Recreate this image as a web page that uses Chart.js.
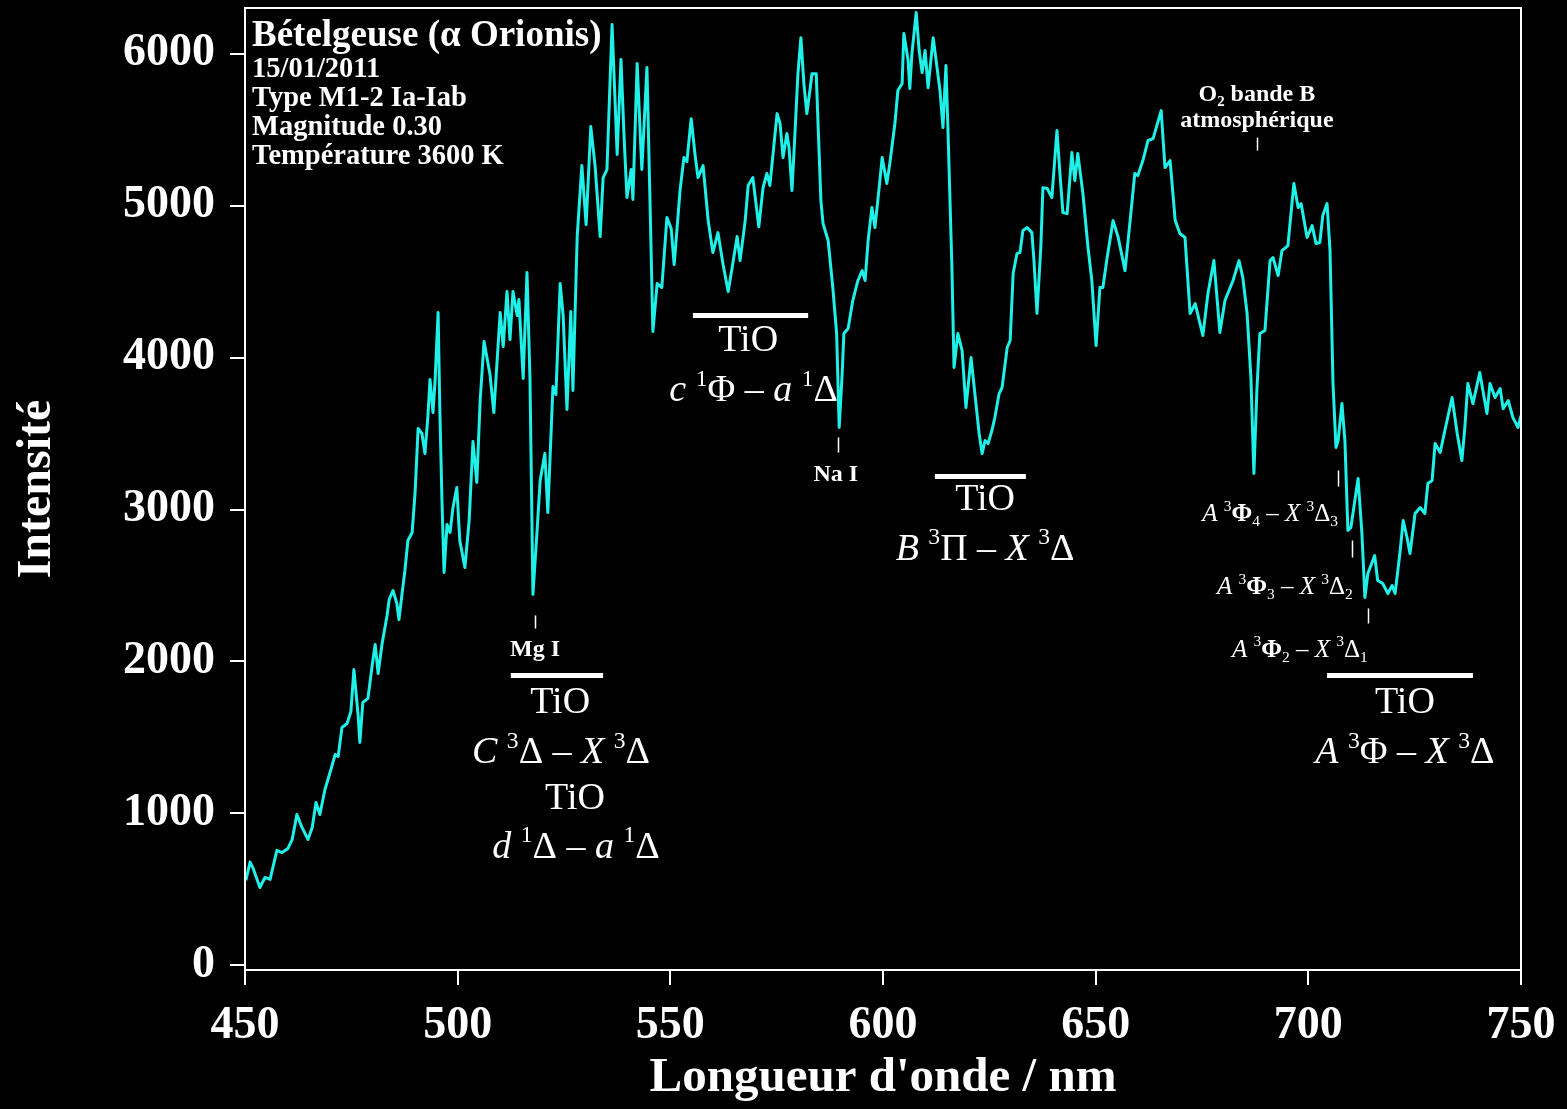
<!DOCTYPE html>
<html lang="fr">
<head>
<meta charset="utf-8">
<title>Bételgeuse (α Orionis) – spectre</title>
<script src="https://cdn.jsdelivr.net/npm/chart.js@4/dist/chart.umd.min.js"></script>
<style>
  html, body { margin: 0; padding: 0; background: #000; }
  canvas { display: block; }
</style>
</head>
<body>
<canvas id="spectre" width="1567" height="1109"></canvas>
<script>
// Spectre de Bételgeuse : longueur d'onde (nm) et intensité relevée
const wavelengths = [
  450.2, 451.2, 451.9, 453.5, 454.7, 455.9, 457.5, 458.7, 460.1, 461.1,
  462.2, 463.4, 464.8, 465.8, 466.7, 467.6, 468.8, 470.2, 471.2, 471.9,
  472.8, 474.0, 474.9, 475.6, 476.6, 477.0, 477.7, 478.9, 479.9, 480.6,
  481.3, 482.2, 483.4, 483.9, 484.8, 485.7, 486.2, 486.9, 487.6, 488.3,
  489.3, 490.0, 490.7, 491.6, 492.3, 493.0, 493.5, 494.2, 494.7, 495.4,
  495.8, 496.3, 496.8, 497.5, 498.2, 498.9, 499.8, 500.5, 501.7, 502.7,
  503.6, 504.5, 505.3, 506.2, 507.6, 508.5, 510.0, 510.7, 511.6, 512.3,
  513.0, 514.0, 514.4, 515.4, 516.3, 517.0, 517.7, 518.7, 519.4, 520.5,
  521.2, 522.4, 523.1, 524.1, 524.8, 525.7, 526.6, 527.1, 528.1, 529.2,
  530.2, 531.3, 532.3, 533.5, 534.2, 535.1, 536.3, 537.5, 538.4, 539.1,
  539.8, 540.8, 541.2, 542.2, 543.3, 544.5, 545.2, 545.9, 546.9, 548.0,
  549.2, 550.2, 550.9, 552.3, 553.2, 553.9, 554.9, 555.8, 556.5, 557.7,
  558.9, 560.0, 561.2, 562.4, 563.6, 564.5, 565.7, 566.4, 567.6, 568.3,
  569.4, 570.8, 571.8, 572.7, 573.4, 575.1, 575.8, 576.5, 577.4, 577.9,
  578.6, 579.3, 580.0, 580.7, 581.4, 582.1, 582.9, 583.3, 584.3, 584.7,
  585.4, 585.9, 587.1, 588.2, 589.1, 589.7, 590.4, 590.8, 591.8, 592.9,
  594.1, 595.1, 595.8, 596.5, 597.4, 598.1, 599.1, 599.8, 600.9, 601.6,
  602.8, 603.5, 604.5, 604.9, 605.9, 606.3, 606.8, 607.8, 608.5, 609.2,
  609.9, 610.6, 611.8, 612.7, 613.4, 614.1, 614.8, 615.3, 616.2, 616.7,
  617.6, 618.6, 619.5, 620.7, 621.6, 622.6, 623.3, 624.0, 624.7, 625.6,
  626.3, 627.3, 628.0, 629.2, 629.9, 630.6, 631.5, 632.2, 632.9, 633.9,
  635.0, 635.5, 636.2, 637.1, 637.6, 638.6, 639.7, 640.9, 641.6, 642.3,
  643.3, 644.4, 645.1, 645.8, 647.0, 648.2, 649.1, 650.1, 651.0, 651.7,
  652.7, 654.1, 655.3, 656.9, 658.1, 659.2, 659.9, 661.1, 662.3, 663.5,
  665.4, 666.3, 667.5, 668.7, 669.8, 671.0, 672.2, 673.4, 675.2, 676.4,
  677.8, 679.2, 680.4, 682.3, 683.7, 684.6, 685.6, 686.5, 687.2, 687.9,
  688.6, 689.8, 691.0, 691.7, 692.9, 693.8, 695.2, 696.6, 697.6, 698.3,
  699.7, 700.9, 701.8, 702.7, 703.4, 704.4, 705.1, 705.8, 706.5, 707.0,
  707.9, 708.6, 709.3, 710.0, 711.7, 712.6, 713.3, 714.0, 715.6, 716.3,
  717.5, 718.7, 719.7, 720.4, 721.6, 722.3, 723.2, 723.9, 725.1, 726.3,
  727.4, 728.1, 729.1, 729.8, 731.0, 732.1, 733.8, 735.0, 736.1, 736.8,
  737.5, 738.7, 740.3, 742.0, 742.7, 743.9, 745.1, 745.8, 747.0, 748.1,
  749.3, 750.0
];
const intensities = [
   560,  680,  640,  513,  579,  566,  757,  743,  770,  829,
   993,  908,  829,  908, 1072,  993, 1158, 1289, 1388, 1375,
  1566, 1592, 1671, 1947, 1645, 1467, 1730, 1757, 1974, 2112,
  1921, 2112, 2303, 2408, 2467, 2382, 2276, 2441, 2599, 2796,
  2849, 3118, 3533, 3500, 3368, 3612, 3855, 3638, 3855, 4296,
  3665, 3066, 2586, 2901, 2849, 3013, 3145, 2796, 2618, 2928,
  3447, 3178, 3724, 4105, 3888, 3638, 4296, 4072, 4434, 4118,
  4434, 4276, 4382, 3862, 4559, 3862, 2441, 2875, 3191, 3368,
  2980, 3809, 3757, 4487, 4276, 3658, 4303, 3783, 4796, 5263,
  4875, 5520, 5263, 4796, 5184, 5237, 6191, 5336, 5961, 5467,
  5053, 5237, 5040, 5934, 5237, 5908, 5053, 4171, 4487, 4461,
  4921, 4849, 4612, 5105, 5316, 5290, 5572, 5336, 5184, 5263,
  4901, 4691, 4822, 4612, 4434, 4586, 4796, 4638, 4901, 5132,
  5184, 4860, 5118, 5211, 5132, 5605, 5540, 5316, 5474, 5382,
  5099, 5474, 5868, 6105, 5803, 5605, 5776, 5868, 5868, 5559,
  5033, 4882, 4770, 4461, 4158, 3540, 3895, 4158, 4191, 4375,
  4507, 4572, 4507, 4770, 4987, 4855, 5118, 5316, 5145, 5276,
  5540, 5757, 5803, 6132, 5954, 5770, 6000, 6270, 6020, 5875,
  6020, 5776, 6105, 5908, 5757, 5513, 5921, 5474, 4592, 3934,
  4158, 4046, 3671, 4000, 3763, 3500, 3368, 3454, 3434, 3520,
  3605, 3763, 3803, 4066, 4112, 4553, 4684, 4691, 4836, 4855,
  4822, 4638, 4290, 4724, 5118, 5112, 5053, 5494, 5211, 4954,
  4947, 5349, 5165, 5342, 5079, 4724, 4507, 4079, 4461, 4461,
  4658, 4901, 4790, 4572, 4901, 5211, 5197, 5296, 5428, 5441,
  5625, 5250, 5296, 4901, 4816, 4790, 4290, 4355, 4145, 4421,
  4638, 4165, 4375, 4507, 4638, 4526, 4290, 3868, 3237, 3783,
  4158, 4178, 4638, 4658, 4540, 4704, 4737, 5145, 4987, 5013,
  4790, 4868, 4750, 4757, 4934, 5013, 4704, 3829, 3408, 3454,
  3697, 3454, 2862, 2882, 3204, 2842, 2421, 2579, 2697, 2533,
  2513, 2447, 2500, 2447, 2730, 2928, 2816, 2711, 2974, 3013,
  2974, 3171, 3191, 3434, 3375, 3520, 3737, 3500, 3322, 3540,
  3829, 3697, 3901, 3632, 3829, 3737, 3796, 3664, 3717, 3605,
  3540, 3618
];

// Graduations des axes
const xTickValues = [450, 500, 550, 600, 650, 700, 750];
const yTickValues = [0, 1000, 2000, 3000, 4000, 5000, 6000];

// Fiche de l'étoile (coin supérieur gauche)
const starTitle = 'Bételgeuse (α Orionis)';
const starDetails = ['15/01/2011', 'Type M1-2 Ia-Iab', 'Magnitude 0.30', 'Température 3600 K'];

// Bandes moléculaires : étendue (nm) et niveau du trait
const bandFrom  = [512.5, 555.3, 612.2, 704.4];
const bandTo    = [534.2, 582.4, 633.6, 738.7];
const bandLevel = [1908, 4276, 3217, 1908];

// Raies repérées : position (nm) et extrémités du repère
const markNm   = [518.2, 589.4, 687.9, 707.0, 710.3, 714.0];
const markLow  = [2217, 3375, 5362, 3151, 2684, 2250];
const markHigh = [2303, 3474, 5447, 3257, 2796, 2349];

const FAMILY = '"Liberation Serif", "Times New Roman", serif';
const LINE_COLOR = '#1ff0e8';

// Textes composés : [texte, style] — i = italique, b = gras, sup / sub
const labels = [
  // TiO C3Δ–X3Δ et d1Δ–a1Δ
  { nm: 524.1, v: 1743, size: 38, segs: [['TiO']] },
  { nm: 524.3, v: 1414, size: 38, segs: [['C', 'i'], [' '], ['3', 'sup'], ['Δ'], [' – '], ['X', 'i'], [' '], ['3', 'sup'], ['Δ']] },
  { nm: 527.6, v: 1112, size: 38, segs: [['TiO']] },
  { nm: 527.8, v: 789,  size: 38, segs: [['d', 'i'], [' '], ['1', 'sup'], ['Δ'], [' – '], ['a', 'i'], [' '], ['1', 'sup'], ['Δ']] },
  // TiO c1Φ–a1Δ
  { nm: 568.3, v: 4125, size: 38, segs: [['TiO']] },
  { nm: 569.6, v: 3796, size: 38, segs: [['c', 'i'], [' '], ['1', 'sup'], ['Φ'], [' – '], ['a', 'i'], [' '], ['1', 'sup'], ['Δ']] },
  // TiO B3Π–X3Δ
  { nm: 624.0, v: 3079, size: 38, segs: [['TiO']] },
  { nm: 624.0, v: 2750, size: 38, segs: [['B', 'i'], [' '], ['3', 'sup'], ['Π'], [' – '], ['X', 'i'], [' '], ['3', 'sup'], ['Δ']] },
  // TiO A3Φ–X3Δ
  { nm: 722.7, v: 1743, size: 38, segs: [['TiO']] },
  { nm: 722.7, v: 1414, size: 38, segs: [['A', 'i'], [' '], ['3', 'sup'], ['Φ'], [' – '], ['X', 'i'], [' '], ['3', 'sup'], ['Δ']] },
  // raies atomiques et tellurique
  { nm: 518.2, v: 2092, size: 24, segs: [['Mg I', 'b']] },
  { nm: 588.9, v: 3243, size: 24, segs: [['Na I', 'b']] },
  { nm: 687.9, v: 5743, size: 24, segs: [['O', 'b'], ['2', 'b sub'], [' bande B', 'b']] },
  { nm: 687.9, v: 5572, size: 24, segs: [['atmosphérique', 'b']] },
  // têtes de bande A3Φ–X3Δ
  { nm: 691.0, v: 2980, size: 25, segs: [['A', 'i'], [' '], ['3', 'sup'], ['Φ', 'b'], ['4', 'sub'], [' – '], ['X', 'i'], [' '], ['3', 'sup'], ['Δ'], ['3', 'sub']] },
  { nm: 694.5, v: 2500, size: 25, segs: [['A', 'i'], [' '], ['3', 'sup'], ['Φ', 'b'], ['3', 'sub'], [' – '], ['X', 'i'], [' '], ['3', 'sup'], ['Δ'], ['2', 'sub']] },
  { nm: 698.0, v: 2086, size: 25, segs: [['A', 'i'], [' '], ['3', 'sup'], ['Φ', 'b'], ['2', 'sub'], [' – '], ['X', 'i'], [' '], ['3', 'sup'], ['Δ'], ['1', 'sub']] }
];

function fontFor(tokens, size) {
  const small = tokens.includes('sup') || tokens.includes('sub');
  const s = small ? size * 0.62 : size;
  return (tokens.includes('i') ? 'italic ' : '') + (tokens.includes('b') ? 'bold ' : '') +
         s.toFixed(1) + 'px ' + FAMILY;
}

function drawRich(ctx, segs, cx, midY, size) {
  const parts = segs.map(([t, st]) => ({ t, tokens: (st || '').split(/\s+/) }));
  let total = 0;
  parts.forEach(p => { ctx.font = fontFor(p.tokens, size); p.w = ctx.measureText(p.t).width; total += p.w; });
  let x = cx - total / 2;
  const baseY = midY + 0.34 * size;
  ctx.textAlign = 'left';
  ctx.textBaseline = 'alphabetic';
  parts.forEach(p => {
    ctx.font = fontFor(p.tokens, size);
    let y = baseY;
    if (p.tokens.includes('sup')) y -= 0.42 * size;
    if (p.tokens.includes('sub')) y += 0.2 * size;
    ctx.fillText(p.t, x, y);
    x += p.w;
  });
}

// Fond noir et cadre blanc autour de la zone de tracé
const framePlugin = {
  id: 'frame',
  beforeDraw(chart) {
    const { ctx, width, height } = chart;
    ctx.save();
    ctx.fillStyle = '#000';
    ctx.fillRect(0, 0, width, height);
    ctx.restore();
  },
  afterDraw(chart) {
    const { ctx, chartArea: a } = chart;
    ctx.save();
    ctx.strokeStyle = '#fff';
    ctx.lineWidth = 2;
    ctx.strokeRect(a.left, a.top, a.right - a.left, a.bottom - a.top);
    ctx.restore();
  }
};

// Bandes, repères de raies et légendes placés dans le repère des données
const annotationPlugin = {
  id: 'spectralNotes',
  afterDatasetsDraw(chart) {
    const { ctx, chartArea: a } = chart;
    const xs = chart.scales.x, ys = chart.scales.y;
    ctx.save();
    ctx.fillStyle = '#fff';
    ctx.strokeStyle = '#fff';

    // fiche de l'étoile
    ctx.textAlign = 'left';
    ctx.textBaseline = 'middle';
    ctx.font = 'bold 37px ' + FAMILY;
    ctx.fillText(starTitle, a.left + 7, a.top + 28);
    ctx.font = 'bold 28.5px ' + FAMILY;
    starDetails.forEach((line, i) => ctx.fillText(line, a.left + 7, a.top + 62 + i * 29));

    // traits des bandes TiO
    ctx.lineWidth = 5;
    bandFrom.forEach((f, i) => {
      const y = ys.getPixelForValue(bandLevel[i]);
      ctx.beginPath();
      ctx.moveTo(xs.getPixelForValue(f), y);
      ctx.lineTo(xs.getPixelForValue(bandTo[i]), y);
      ctx.stroke();
    });

    // repères verticaux des raies
    ctx.lineWidth = 1.5;
    markNm.forEach((nm, i) => {
      const x = Math.round(xs.getPixelForValue(nm)) + 0.5;
      ctx.beginPath();
      ctx.moveTo(x, ys.getPixelForValue(markHigh[i]));
      ctx.lineTo(x, ys.getPixelForValue(markLow[i]));
      ctx.stroke();
    });

    // légendes
    labels.forEach(l => drawRich(ctx, l.segs, xs.getPixelForValue(l.nm), ys.getPixelForValue(l.v), l.size));
    ctx.restore();
  }
};

const axisFont = { family: FAMILY, size: 46, weight: 'bold', lineHeight: 1 };

// Les étiquettes débordantes ne doivent pas réduire la zone de tracé
function noScalePadding(s) {
  s.paddingTop = 0; s.paddingBottom = 0; s.paddingLeft = 0; s.paddingRight = 0;
}

new Chart(document.getElementById('spectre'), {
  type: 'line',
  data: {
    datasets: [{
      data: wavelengths.map((w, i) => ({ x: w, y: intensities[i] })),
      borderColor: LINE_COLOR,
      borderWidth: 3,
      borderJoinStyle: 'round',
      pointRadius: 0,
      tension: 0,
      fill: false
    }]
  },
  options: {
    responsive: false,
    animation: false,
    devicePixelRatio: 1,
    layout: { padding: { top: 8, right: 46, left: 0, bottom: 0 } },
    plugins: { legend: { display: false }, tooltip: { enabled: false } },
    scales: {
      x: {
        type: 'linear',
        min: 450,
        max: 750,
        afterBuildTicks: s => { s.ticks = xTickValues.map(v => ({ value: v })); },
        afterFit: s => { s.height = 139; noScalePadding(s); },
        ticks: { color: '#fff', font: axisFont, padding: 18, maxRotation: 0, autoSkip: false, callback: v => String(v) },
        grid: { drawOnChartArea: false, color: '#fff', lineWidth: 2, tickLength: 15, tickWidth: 2 },
        border: { display: true, color: '#fff', width: 2 },
        title: {
          display: true,
          text: "Longueur d'onde / nm",
          color: '#fff',
          font: { family: FAMILY, size: 49, weight: 'bold', lineHeight: 1 },
          padding: { top: 0, bottom: 6 }
        }
      },
      y: {
        type: 'linear',
        min: -30,
        max: 6300,
        afterBuildTicks: s => { s.ticks = yTickValues.map(v => ({ value: v })); },
        afterFit: s => { s.width = 245; noScalePadding(s); },
        ticks: { color: '#fff', font: axisFont, padding: 15, callback: v => String(v) },
        grid: { drawOnChartArea: false, color: '#fff', lineWidth: 2, tickLength: 15, tickWidth: 2 },
        border: { display: true, color: '#fff', width: 2 },
        title: {
          display: true,
          text: 'Intensité',
          color: '#fff',
          font: { family: FAMILY, size: 48, weight: 'bold', lineHeight: 1 },
          padding: { top: 14, bottom: 0 }
        }
      }
    }
  },
  plugins: [framePlugin, annotationPlugin]
});
</script>
</body>
</html>
